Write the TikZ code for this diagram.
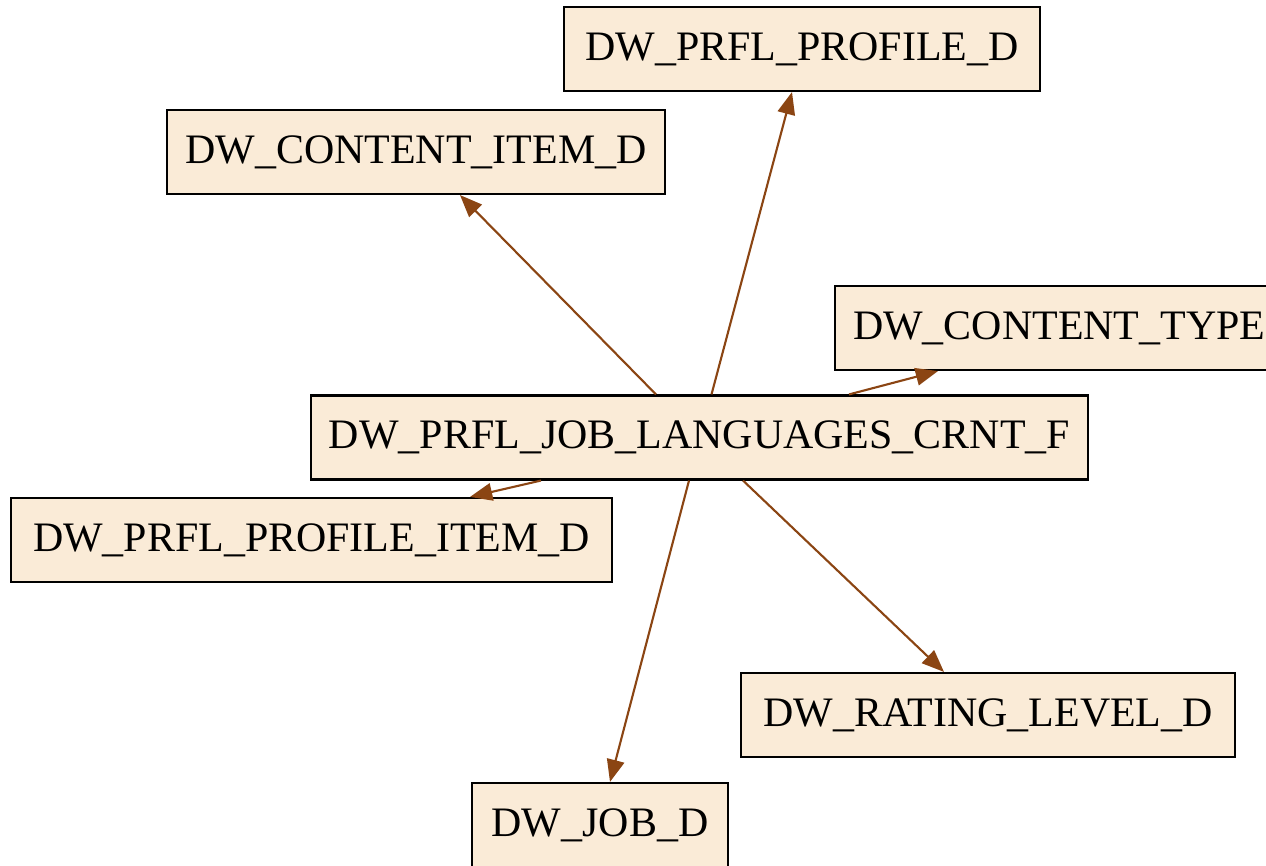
\documentclass[tikz,border=0pt]{standalone}
\usepackage{fontspec}
\setmainfont{Liberation Serif}
\usepackage{xcolor}
\usetikzlibrary{calc,arrows.meta}

\definecolor{tblfill}{HTML}{FAEBD7}
\definecolor{fkline}{HTML}{8B4513}

\begin{document}
\begin{tikzpicture}[x=0.015cm,y=-0.015cm,font=\fontsize{17.9pt}{20pt}\selectfont,
  tbl/.style={draw=black,line width=0.9pt,fill=tblfill,minimum height=1.26cm,inner sep=0pt},
  fk/.style={draw=fkline,line width=0.9pt,-{Triangle[length=9.5pt,width=7.5pt]}}]
  \useasboundingbox (0,0) rectangle (1266,866);
  \clip (0,0) rectangle (1266,866);
  \fill[white] (0,0) rectangle (1266,866);
  % tables
  \node[tbl,minimum width=11.655cm] (main) at (699.5,437.5) {DW\_PRFL\_JOB\_LANGUAGES\_CRNT\_F};
  \node[tbl,minimum width=7.14cm] (prof) at (802,49) {DW\_PRFL\_PROFILE\_D};
  \node[tbl,minimum width=7.47cm] (item) at (416,152) {DW\_CONTENT\_ITEM\_D};
  \node[tbl,anchor=west,inner xsep=0.27cm] (type) at (834,328) {DW\_CONTENT\_TYPE};
  \node[tbl,minimum width=9.015cm] (pitem) at (311.5,540) {DW\_PRFL\_PROFILE\_ITEM\_D};
  \node[tbl,minimum width=7.41cm] (rating) at (988,715) {DW\_RATING\_LEVEL\_D};
  \node[tbl,minimum width=3.84cm] (job) at (600,825) {DW\_JOB\_D};
  % foreign keys
  \draw[fk] ($(main.north)+(12,0)$) -- ($(prof.south)+(-10,0)$);
  \draw[fk] ($(main.north)+(-43.5,0)$) -- ($(item.south)+(44,0)$);
  \draw[fk] ($(main.north)+(149.5,0)$) -- ($(type.south west)+(104,0)$);
  \draw[fk] ($(main.south)+(-158.5,0)$) -- ($(pitem.north)+(158.5,0)$);
  \draw[fk] ($(main.south)+(-10.5,0)$) -- ($(job.north)+(10,0)$);
  \draw[fk] ($(main.south)+(43.5,0)$) -- ($(rating.north)+(-44,0)$);
\end{tikzpicture}
\end{document}
